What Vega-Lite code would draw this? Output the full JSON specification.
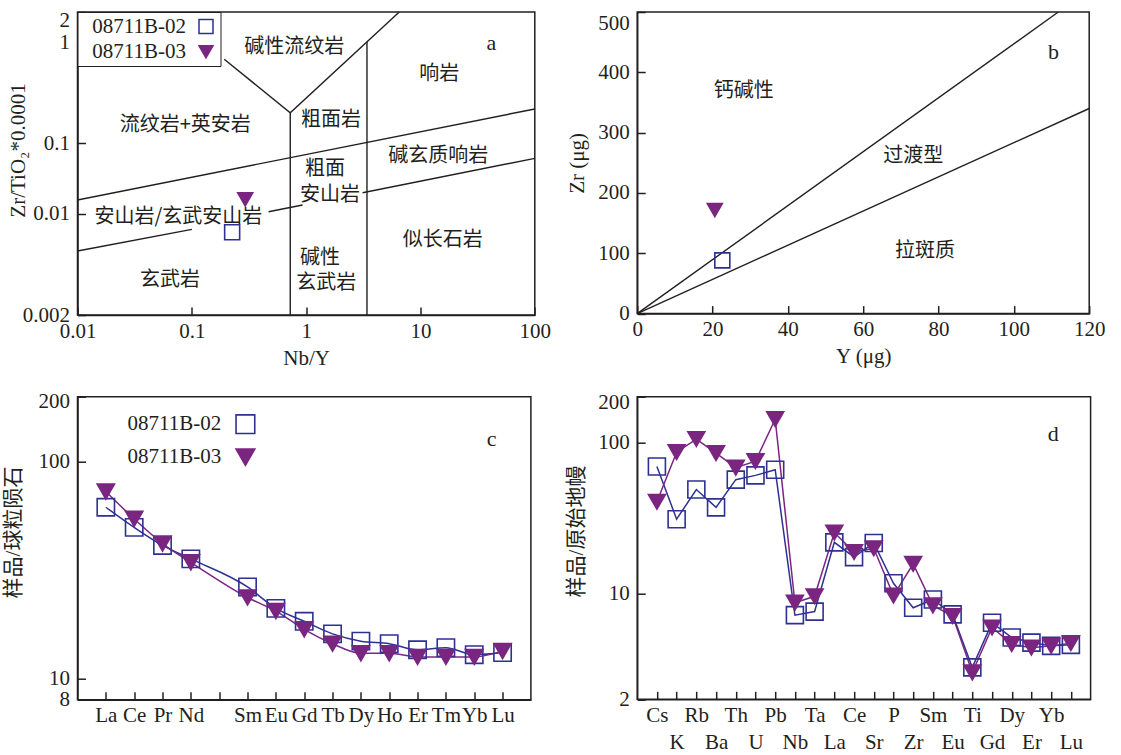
{
  "$schema": "https://vega.github.io/schema/vega-lite/v6.json",
  "background": "white",
  "padding": {"left": 1.5, "top": 8, "right": 5, "bottom": 0},
  "columns": 2,
  "spacing": {"row": 81.7, "column": 101.7},
  "bounds": "flush",
  "align": "all",
  "resolve": {
    "scale": {"x": "independent", "y": "independent", "shape": "independent", "stroke": "independent", "fill": "independent"},
    "legend": {"shape": "independent", "stroke": "independent", "fill": "independent"}
  },
  "config": {
    "view": {"stroke": "#231f20", "strokeWidth": 1.5},
    "axis": {
      "labelFont": "Liberation Serif", "labelFontSize": 21, "labelColor": "#231f20",
      "titleFont": "Liberation Serif, Noto Sans CJK SC", "titleFontSize": 21, "titleFontWeight": "normal", "titleColor": "#231f20",
      "domainColor": "#231f20", "domainWidth": 1.5, "tickColor": "#231f20", "tickWidth": 1.5,
      "tickSize": -8, "labelPadding": 16, "grid": false, "labelFlush": false, "labelOverlap": false
    },
    "axisX": {"labelPadding": 13},
    "legend": {"labelFont": "Liberation Serif", "labelFontSize": 21, "labelColor": "#231f20", "symbolOpacity": 1},
    "point": {"opacity": 1}
  },
  "datasets": {
    "a_lines": [
      {"seg": "tri", "o": 0, "x": 0.1921, "y": 0.68},
      {"seg": "tri", "o": 1, "x": 0.726, "y": 0.2009},
      {"seg": "tri", "o": 2, "x": 6.523, "y": 2},
      {"seg": "v1", "o": 0, "x": 0.726, "y": 0.2009},
      {"seg": "v1", "o": 1, "x": 0.726, "y": 0.002},
      {"seg": "v2", "o": 0, "x": 3.404, "y": 1.012},
      {"seg": "v2", "o": 1, "x": 3.404, "y": 0.002},
      {"seg": "up", "o": 0, "x": 0.01, "y": 0.01565},
      {"seg": "up", "o": 1, "x": 100, "y": 0.2187},
      {"seg": "lo1", "o": 0, "x": 0.01, "y": 0.00553},
      {"seg": "lo1", "o": 1, "x": 0.1002, "y": 0.0078},
      {"seg": "lo2", "o": 0, "x": 0.469, "y": 0.01068},
      {"seg": "lo2", "o": 1, "x": 0.93, "y": 0.0133},
      {"seg": "lo3", "o": 0, "x": 3.114, "y": 0.01987},
      {"seg": "lo3", "o": 1, "x": 100, "y": 0.0612}
    ],
    "a_pts": [
      {"sample": "08711B-02", "x": 0.2253, "y": 0.00745},
      {"sample": "08711B-03", "x": 0.293, "y": 0.01601}
    ],
    "a_txt": [
      {"t": "碱性流纹岩", "x": 0.787, "y": 0.904},
      {"t": "响岩", "x": 14.6, "y": 0.4914},
      {"t": "流纹岩+英安岩", "x": 0.0876, "y": 0.1518},
      {"t": "粗面岩", "x": 1.648, "y": 0.1701},
      {"t": "粗面", "x": 1.464, "y": 0.04385},
      {"t": "安山岩", "x": 1.618, "y": 0.01843},
      {"t": "碱玄质响岩", "x": 14.3, "y": 0.066},
      {"t": "安山岩/玄武安山岩", "x": 0.0763, "y": 0.00952},
      {"t": "似长石岩", "x": 15.7, "y": 0.00659},
      {"t": "玄武岩", "x": 0.0645, "y": 0.00348},
      {"t": "碱性", "x": 1.323, "y": 0.00495},
      {"t": "玄武岩", "x": 1.4997, "y": 0.0033}
    ],
    "a_tag": [{"t": "a", "x": 41.6, "y": 0.992}],
    "b_lines": [
      {"seg": "calc", "o": 0, "x": 0, "y": 0},
      {"seg": "calc", "o": 1, "x": 111.8, "y": 500},
      {"seg": "th", "o": 0, "x": 0, "y": 0},
      {"seg": "th", "o": 1, "x": 120, "y": 340}
    ],
    "b_pts": [
      {"sample": "08711B-02", "x": 22.6, "y": 88.3},
      {"sample": "08711B-03", "x": 20.6, "y": 171.5}
    ],
    "b_txt": [
      {"t": "钙碱性", "x": 28.3, "y": 369},
      {"t": "过渡型", "x": 73.3, "y": 261},
      {"t": "拉斑质", "x": 76.4, "y": 103.8}
    ],
    "b_tag": [{"t": "b", "x": 110.5, "y": 433}],
    "ree": [
      {"sample": "08711B-02", "el": "La", "v": 61.8},
      {"sample": "08711B-02", "el": "Ce", "v": 49.9},
      {"sample": "08711B-02", "el": "Pr", "v": 41.2},
      {"sample": "08711B-02", "el": "Nd", "v": 35.7},
      {"sample": "08711B-02", "el": "Sm", "v": 26.5},
      {"sample": "08711B-02", "el": "Eu", "v": 21.1},
      {"sample": "08711B-02", "el": "Gd", "v": 18.4},
      {"sample": "08711B-02", "el": "Tb", "v": 16.1},
      {"sample": "08711B-02", "el": "Dy", "v": 14.9},
      {"sample": "08711B-02", "el": "Ho", "v": 14.5},
      {"sample": "08711B-02", "el": "Er", "v": 13.6},
      {"sample": "08711B-02", "el": "Tm", "v": 13.9},
      {"sample": "08711B-02", "el": "Yb", "v": 12.9},
      {"sample": "08711B-02", "el": "Lu", "v": 13.2},
      {"sample": "08711B-03", "el": "La", "v": 73},
      {"sample": "08711B-03", "el": "Ce", "v": 54.6},
      {"sample": "08711B-03", "el": "Pr", "v": 42},
      {"sample": "08711B-03", "el": "Nd", "v": 34.4},
      {"sample": "08711B-03", "el": "Sm", "v": 23.7},
      {"sample": "08711B-03", "el": "Eu", "v": 20.5},
      {"sample": "08711B-03", "el": "Gd", "v": 16.9},
      {"sample": "08711B-03", "el": "Tb", "v": 14.5},
      {"sample": "08711B-03", "el": "Dy", "v": 13.1},
      {"sample": "08711B-03", "el": "Ho", "v": 13.1},
      {"sample": "08711B-03", "el": "Er", "v": 12.6},
      {"sample": "08711B-03", "el": "Tm", "v": 12.6},
      {"sample": "08711B-03", "el": "Yb", "v": 12.6},
      {"sample": "08711B-03", "el": "Lu", "v": 13.4}
    ],
    "c_tag": [{"t": "c", "el": "Lu", "v": 127.8}],
    "spider": [
      {"sample": "08711B-02", "el": "Cs", "v": 69.2},
      {"sample": "08711B-02", "el": "K", "v": 31.0},
      {"sample": "08711B-02", "el": "Rb", "v": 48.7},
      {"sample": "08711B-02", "el": "Ba", "v": 37.1},
      {"sample": "08711B-02", "el": "Th", "v": 56.6},
      {"sample": "08711B-02", "el": "U", "v": 60.4},
      {"sample": "08711B-02", "el": "Pb", "v": 65.8},
      {"sample": "08711B-02", "el": "Nb", "v": 7.2},
      {"sample": "08711B-02", "el": "Ta", "v": 7.6},
      {"sample": "08711B-02", "el": "La", "v": 21.8},
      {"sample": "08711B-02", "el": "Ce", "v": 17.4},
      {"sample": "08711B-02", "el": "Sr", "v": 21.6},
      {"sample": "08711B-02", "el": "P", "v": 11.7},
      {"sample": "08711B-02", "el": "Zr", "v": 8.05},
      {"sample": "08711B-02", "el": "Sm", "v": 9.14},
      {"sample": "08711B-02", "el": "Eu", "v": 7.28},
      {"sample": "08711B-02", "el": "Ti", "v": 3.25},
      {"sample": "08711B-02", "el": "Gd", "v": 6.41},
      {"sample": "08711B-02", "el": "Dy", "v": 5.12},
      {"sample": "08711B-02", "el": "Er", "v": 4.74},
      {"sample": "08711B-02", "el": "Yb", "v": 4.51},
      {"sample": "08711B-02", "el": "Lu", "v": 4.58},
      {"sample": "08711B-03", "el": "Cs", "v": 40.4},
      {"sample": "08711B-03", "el": "K", "v": 86.0},
      {"sample": "08711B-03", "el": "Rb", "v": 105},
      {"sample": "08711B-03", "el": "Ba", "v": 84.7},
      {"sample": "08711B-03", "el": "Th", "v": 67.9},
      {"sample": "08711B-03", "el": "U", "v": 75.0},
      {"sample": "08711B-03", "el": "Pb", "v": 142},
      {"sample": "08711B-03", "el": "Nb", "v": 8.69},
      {"sample": "08711B-03", "el": "Ta", "v": 9.59},
      {"sample": "08711B-03", "el": "La", "v": 25.3},
      {"sample": "08711B-03", "el": "Ce", "v": 18.8},
      {"sample": "08711B-03", "el": "Sr", "v": 19.9},
      {"sample": "08711B-03", "el": "P", "v": 9.7},
      {"sample": "08711B-03", "el": "Zr", "v": 15.7},
      {"sample": "08711B-03", "el": "Sm", "v": 8.34},
      {"sample": "08711B-03", "el": "Eu", "v": 7.1},
      {"sample": "08711B-03", "el": "Ti", "v": 3.01},
      {"sample": "08711B-03", "el": "Gd", "v": 5.96},
      {"sample": "08711B-03", "el": "Dy", "v": 4.63},
      {"sample": "08711B-03", "el": "Er", "v": 4.39},
      {"sample": "08711B-03", "el": "Yb", "v": 4.51},
      {"sample": "08711B-03", "el": "Lu", "v": 4.7}
    ],
    "d_tag": [{"t": "d", "el": "Yb", "v": 113.6}]
  },
  "concat": [
    {
      "width": 457.3,
      "height": 303,
      "layer": [
        {
          "data": {"name": "a_lines"},
          "mark": {"type": "line", "color": "#231f20", "strokeWidth": 1.4},
          "encoding": {
            "x": {"field": "x", "type": "quantitative", "title": "Nb/Y",
              "scale": {"type": "log", "domain": [0.01, 100], "nice": false},
              "axis": {"values": [0.01, 0.1, 1, 10, 100], "format": "~g", "titleY": 43.5, "titleBaseline": "middle"}},
            "y": {"field": "y", "type": "quantitative", "title": "Zr/TiO₂*0.0001",
              "scale": {"type": "log", "domain": [0.002, 0.01, 0.1, 2], "range": [303, 201.7, 131.3, 0], "nice": false},
              "axis": {"values": [0.002, 0.01, 0.1, 1, 2], "format": "~g", "titleX": -58.8, "titleY": 138, "titleBaseline": "middle",
                "labelOffset": {"condition": {"test": "datum.value == 2", "value": 8.5}, "value": 0}}},
            "detail": {"field": "seg"},
            "order": {"field": "o"}
          }
        },
        {
          "data": {"name": "a_txt"},
          "mark": {"type": "text", "font": "Noto Sans CJK SC", "fontSize": 20, "color": "#231f20", "align": "center", "baseline": "middle"},
          "encoding": {
            "x": {"field": "x", "type": "quantitative", "scale": {"type": "log", "domain": [0.01, 100], "nice": false}},
            "y": {"field": "y", "type": "quantitative", "scale": {"type": "log", "domain": [0.002, 0.01, 0.1, 2], "range": [303, 201.7, 131.3, 0], "nice": false}},
            "text": {"field": "t"}
          }
        },
        {
          "data": {"name": "a_tag"},
          "mark": {"type": "text", "font": "Liberation Serif", "fontSize": 22, "color": "#231f20", "align": "center", "baseline": "middle"},
          "encoding": {
            "x": {"field": "x", "type": "quantitative", "scale": {"type": "log", "domain": [0.01, 100], "nice": false}},
            "y": {"field": "y", "type": "quantitative", "scale": {"type": "log", "domain": [0.002, 0.01, 0.1, 2], "range": [303, 201.7, 131.3, 0], "nice": false}},
            "text": {"field": "t"}
          }
        },
        {
          "data": {"name": "a_pts"},
          "mark": {"type": "point", "filled": true, "size": 225, "strokeWidth": 1.6, "opacity": 1},
          "encoding": {
            "x": {"field": "x", "type": "quantitative", "scale": {"type": "log", "domain": [0.01, 100], "nice": false}},
            "y": {"field": "y", "type": "quantitative", "scale": {"type": "log", "domain": [0.002, 0.01, 0.1, 2], "range": [303, 201.7, 131.3, 0], "nice": false}},
            "shape": {"field": "sample", "type": "nominal", "scale": {"domain": ["08711B-02", "08711B-03"], "range": ["square", "triangle-down"]},
              "legend": {"title": null, "orient": "none", "legendX": 0, "legendY": 0, "padding": 4, "strokeColor": "#231f20", "fillColor": "white", "symbolSize": 196, "symbolStrokeWidth": 1.5, "labelOffset": -124.3, "symbolOffset": 114, "rowPadding": 3.3}},
            "stroke": {"field": "sample", "type": "nominal", "scale": {"domain": ["08711B-02", "08711B-03"], "range": ["#2e3192", "#7a2680"]},
              "legend": {"title": null, "orient": "none", "legendX": 0, "legendY": 0, "padding": 4, "strokeColor": "#231f20", "fillColor": "white", "symbolSize": 196, "symbolStrokeWidth": 1.5, "labelOffset": -124.3, "symbolOffset": 114, "rowPadding": 3.3}},
            "fill": {"field": "sample", "type": "nominal", "scale": {"domain": ["08711B-02", "08711B-03"], "range": ["transparent", "#7a2680"]},
              "legend": {"title": null, "orient": "none", "legendX": 0, "legendY": 0, "padding": 4, "strokeColor": "#231f20", "fillColor": "white", "symbolSize": 196, "symbolStrokeWidth": 1.5, "labelOffset": -124.3, "symbolOffset": 114, "rowPadding": 3.3}}
          }
        }
      ]
    },
    {
      "width": 452,
      "height": 301.6,
      "layer": [
        {
          "data": {"name": "b_lines"},
          "mark": {"type": "line", "color": "#231f20", "strokeWidth": 1.4},
          "encoding": {
            "x": {"field": "x", "type": "quantitative", "title": "Y (μg)",
              "scale": {"domain": [0, 120], "nice": false, "zero": false},
              "axis": {"values": [0, 20, 40, 60, 80, 100, 120], "titleY": 43, "titleBaseline": "middle"}},
            "y": {"field": "y", "type": "quantitative", "title": "Zr (μg)",
              "scale": {"domain": [0, 500], "nice": false, "zero": false},
              "axis": {"values": [0, 100, 200, 300, 400, 500], "titleX": -59.3, "titleY": 150.8, "titleBaseline": "middle",
                "labelOffset": {"condition": {"test": "datum.value == 500", "value": 11}, "value": 0}}},
            "detail": {"field": "seg"},
            "order": {"field": "o"}
          }
        },
        {
          "data": {"name": "b_txt"},
          "mark": {"type": "text", "font": "Noto Sans CJK SC", "fontSize": 20, "color": "#231f20", "align": "center", "baseline": "middle"},
          "encoding": {
            "x": {"field": "x", "type": "quantitative", "scale": {"domain": [0, 120], "nice": false, "zero": false}},
            "y": {"field": "y", "type": "quantitative", "scale": {"domain": [0, 500], "nice": false, "zero": false}},
            "text": {"field": "t"}
          }
        },
        {
          "data": {"name": "b_tag"},
          "mark": {"type": "text", "font": "Liberation Serif", "fontSize": 22, "color": "#231f20", "align": "center", "baseline": "middle"},
          "encoding": {
            "x": {"field": "x", "type": "quantitative", "scale": {"domain": [0, 120], "nice": false, "zero": false}},
            "y": {"field": "y", "type": "quantitative", "scale": {"domain": [0, 500], "nice": false, "zero": false}},
            "text": {"field": "t"}
          }
        },
        {
          "data": {"name": "b_pts"},
          "mark": {"type": "point", "filled": true, "size": 225, "strokeWidth": 1.6, "opacity": 1},
          "encoding": {
            "x": {"field": "x", "type": "quantitative", "scale": {"domain": [0, 120], "nice": false, "zero": false}},
            "y": {"field": "y", "type": "quantitative", "scale": {"domain": [0, 500], "nice": false, "zero": false}},
            "shape": {"field": "sample", "type": "nominal", "scale": {"domain": ["08711B-02", "08711B-03"], "range": ["square", "triangle-down"]}, "legend": null},
            "stroke": {"field": "sample", "type": "nominal", "scale": {"domain": ["08711B-02", "08711B-03"], "range": ["#2e3192", "#7a2680"]}, "legend": null},
            "fill": {"field": "sample", "type": "nominal", "scale": {"domain": ["08711B-02", "08711B-03"], "range": ["transparent", "#7a2680"]}, "legend": null}
          }
        }
      ]
    },
    {
      "width": 453.4,
      "height": 303,
      "layer": [
        {
          "data": {"name": "ree"},
          "mark": {"type": "line", "strokeWidth": 1.5, "interpolate": "monotone"},
          "encoding": {
            "x": {"field": "el", "type": "nominal", "title": null,
              "scale": {"type": "point", "padding": 1, "domain": ["La", "Ce", "Pr", "Nd", "Pm", "Sm", "Eu", "Gd", "Tb", "Dy", "Ho", "Er", "Tm", "Yb", "Lu"]},
              "axis": {"labelAngle": 0, "labelExpr": "datum.value == 'Pm' ? '' : datum.value"}},
            "y": {"field": "v", "type": "quantitative", "title": "样品/球粒陨石",
              "scale": {"type": "log", "domain": [8, 200], "nice": false},
              "axis": {"values": [8, 10, 100, 200], "format": "~g", "titleX": -64.1, "titleY": 135.3, "titleBaseline": "middle",
                "labelOffset": {"condition": {"test": "datum.value == 200", "value": 4.3}, "value": 0}}},
            "stroke": {"field": "sample", "type": "nominal", "scale": {"domain": ["08711B-02", "08711B-03"], "range": ["#2e3192", "#7a2680"]},
              "legend": {"title": null, "orient": "none", "legendX": 40, "legendY": 17, "padding": 0, "symbolSize": 350, "symbolStrokeWidth": 1.6, "labelOffset": -128.4, "symbolOffset": 117.4, "rowPadding": 8}},
            "order": {"value": null}
          }
        },
        {
          "data": {"name": "ree"},
          "mark": {"type": "point", "filled": true, "size": 300, "strokeWidth": 1.6, "opacity": 1},
          "encoding": {
            "x": {"field": "el", "type": "nominal", "scale": {"type": "point", "padding": 1, "domain": ["La", "Ce", "Pr", "Nd", "Pm", "Sm", "Eu", "Gd", "Tb", "Dy", "Ho", "Er", "Tm", "Yb", "Lu"]}},
            "y": {"field": "v", "type": "quantitative", "scale": {"type": "log", "domain": [8, 200], "nice": false}},
            "shape": {"field": "sample", "type": "nominal", "scale": {"domain": ["08711B-02", "08711B-03"], "range": ["square", "triangle-down"]},
              "legend": {"title": null, "orient": "none", "legendX": 40, "legendY": 17, "padding": 0, "symbolSize": 350, "symbolStrokeWidth": 1.6, "labelOffset": -128.4, "symbolOffset": 117.4, "rowPadding": 8}},
            "stroke": {"field": "sample", "type": "nominal", "scale": {"domain": ["08711B-02", "08711B-03"], "range": ["#2e3192", "#7a2680"]},
              "legend": {"title": null, "orient": "none", "legendX": 40, "legendY": 17, "padding": 0, "symbolSize": 350, "symbolStrokeWidth": 1.6, "labelOffset": -128.4, "symbolOffset": 117.4, "rowPadding": 8}},
            "fill": {"field": "sample", "type": "nominal", "scale": {"domain": ["08711B-02", "08711B-03"], "range": ["transparent", "#7a2680"]},
              "legend": {"title": null, "orient": "none", "legendX": 40, "legendY": 17, "padding": 0, "symbolSize": 350, "symbolStrokeWidth": 1.6, "labelOffset": -128.4, "symbolOffset": 117.4, "rowPadding": 8}}
          }
        },
        {
          "data": {"name": "c_tag"},
          "mark": {"type": "text", "font": "Liberation Serif", "fontSize": 22, "color": "#231f20", "align": "center", "baseline": "middle", "dx": -11},
          "encoding": {
            "x": {"field": "el", "type": "nominal", "scale": {"type": "point", "padding": 1, "domain": ["La", "Ce", "Pr", "Nd", "Pm", "Sm", "Eu", "Gd", "Tb", "Dy", "Ho", "Er", "Tm", "Yb", "Lu"]}},
            "y": {"field": "v", "type": "quantitative", "scale": {"type": "log", "domain": [8, 200], "nice": false}},
            "text": {"field": "t"}
          }
        }
      ]
    },
    {
      "width": 453.4,
      "height": 302.6,
      "layer": [
        {
          "data": {"name": "spider"},
          "mark": {"type": "line", "strokeWidth": 1.5},
          "encoding": {
            "x": {"field": "el", "type": "nominal", "title": null,
              "scale": {"type": "point", "padding": 1, "domain": ["Cs", "K", "Rb", "Ba", "Th", "U", "Pb", "Nb", "Ta", "La", "Ce", "Sr", "P", "Zr", "Sm", "Eu", "Ti", "Gd", "Dy", "Er", "Yb", "Lu"]},
              "axis": {"labelAngle": 0, "labelLineHeight": 27, "labelExpr": "indexof(['K','Ba','U','Nb','La','Sr','Zr','Eu','Gd','Er','Lu'], datum.value) >= 0 ? ['', datum.value] : datum.value"}},
            "y": {"field": "v", "type": "quantitative", "title": "样品/原始地幔",
              "scale": {"type": "log", "domain": [2, 200], "nice": false},
              "axis": {"values": [2, 10, 100, 200], "format": "~g", "titleX": -60.6, "titleY": 134.3, "titleBaseline": "middle",
                "labelOffset": {"condition": {"test": "datum.value == 200", "value": 5.3}, "value": 0}}},
            "stroke": {"field": "sample", "type": "nominal", "scale": {"domain": ["08711B-02", "08711B-03"], "range": ["#2e3192", "#7a2680"]}, "legend": null},
            "order": {"value": null}
          }
        },
        {
          "data": {"name": "spider"},
          "mark": {"type": "point", "filled": true, "size": 289, "strokeWidth": 1.6, "opacity": 1},
          "encoding": {
            "x": {"field": "el", "type": "nominal", "scale": {"type": "point", "padding": 1, "domain": ["Cs", "K", "Rb", "Ba", "Th", "U", "Pb", "Nb", "Ta", "La", "Ce", "Sr", "P", "Zr", "Sm", "Eu", "Ti", "Gd", "Dy", "Er", "Yb", "Lu"]}},
            "y": {"field": "v", "type": "quantitative", "scale": {"type": "log", "domain": [2, 200], "nice": false}},
            "shape": {"field": "sample", "type": "nominal", "scale": {"domain": ["08711B-02", "08711B-03"], "range": ["square", "triangle-down"]}, "legend": null},
            "stroke": {"field": "sample", "type": "nominal", "scale": {"domain": ["08711B-02", "08711B-03"], "range": ["#2e3192", "#7a2680"]}, "legend": null},
            "fill": {"field": "sample", "type": "nominal", "scale": {"domain": ["08711B-02", "08711B-03"], "range": ["transparent", "#7a2680"]}, "legend": null}
          }
        },
        {
          "data": {"name": "d_tag"},
          "mark": {"type": "text", "font": "Liberation Serif", "fontSize": 22, "color": "#231f20", "align": "center", "baseline": "middle", "dx": 2},
          "encoding": {
            "x": {"field": "el", "type": "nominal", "scale": {"type": "point", "padding": 1, "domain": ["Cs", "K", "Rb", "Ba", "Th", "U", "Pb", "Nb", "Ta", "La", "Ce", "Sr", "P", "Zr", "Sm", "Eu", "Ti", "Gd", "Dy", "Er", "Yb", "Lu"]}},
            "y": {"field": "v", "type": "quantitative", "scale": {"type": "log", "domain": [2, 200], "nice": false}},
            "text": {"field": "t"}
          }
        }
      ]
    }
  ]
}
